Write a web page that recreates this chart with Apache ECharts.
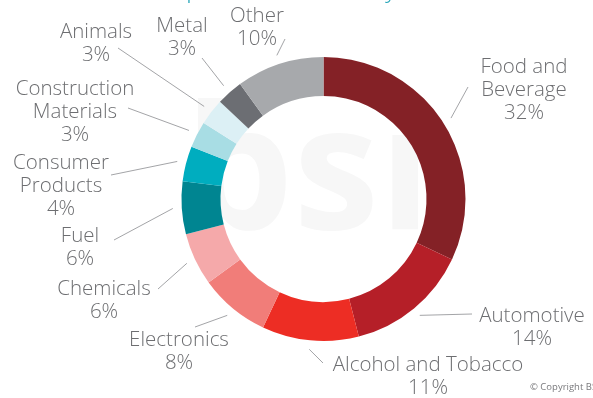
<!DOCTYPE html>
<html>
<head>
<meta charset="utf-8">
<script src="https://cdn.jsdelivr.net/npm/echarts@6/dist/echarts.min.js"></script>
<style>
  html, body { margin: 0; padding: 0; background: #ffffff; }
  #chart { width: 593px; height: 398px; }
</style>
</head>
<body>
<div id="chart"></div>
<script>
// Share of incidents by sector (percent), clockwise from 12 o'clock
const categories = [
  'Food and\nBeverage', 'Automotive', 'Alcohol and Tobacco', 'Electronics',
  'Chemicals', 'Fuel', 'Consumer\nProducts', 'Construction\nMaterials',
  'Animals', 'Metal', 'Other'
];
const shares = [32, 14, 11, 8, 6, 6, 4, 3, 3, 3, 10];
const sliceColors = [
  '#842126', '#b51f28', '#ed2d24', '#f17d79', '#f5a9aa', '#008591',
  '#00adbf', '#a8dde4', '#dcf0f5', '#6c6e73', '#a7a9ac'
];

// Ring geometry
const CX = 323.5, CY = 199, R_IN = 103, R_OUT = 142, LEADER_GAP = 9;

// Where each label sits (text centre) and where its leader line stops
const labelCentres = [
  [524, 90], [532, 328], [428, 377], [179, 352], [104, 301], [80, 248],
  [61, 186], [75, 112], [96, 44], [182, 38], [257, 28]
];
const leaderEnds = [
  [468, 87], [472, 314], [323, 363], [195, 327], [158, 289], [114, 240],
  [111, 175], [128, 108], [118, 48], [202, 58], [285, 39]
];

const chart = echarts.init(document.getElementById('chart'), null, { renderer: 'canvas' });

const option = {
  backgroundColor: '#ffffff',
  animation: false,
  graphic: [
    {
      // page heading, running off the top edge
      type: 'text',
      style: {
        text: 'Top Commodities by Sector',
        x: 318, y: 3,
        fill: '#2aa7ba',
        font: '300 26px "Open Sans", sans-serif',
        textAlign: 'center',
        textVerticalAlign: 'bottom'
      }
    },
    {
      // faint brand mark inside the ring
      type: 'text',
      z: -10,
      silent: true,
      style: {
        text: 'bsi',
        x: 308, y: 180,
        fill: '#f7f7f7',
        font: 'bold 172px "Open Sans", sans-serif',
        textAlign: 'center',
        textVerticalAlign: 'middle'
      }
    },
    {
      type: 'text',
      style: {
        text: '\u00A9 Copyright BSI',
        x: 530, y: 387,
        fill: '#7a7a7d',
        font: '9.5px "Open Sans", sans-serif',
        textAlign: 'left',
        textVerticalAlign: 'middle'
      }
    }
  ],
  series: [{
    type: 'pie',
    z: 2,
    center: [CX, CY],
    radius: [R_IN, R_OUT],
    startAngle: 90,
    clockwise: true,
    avoidLabelOverlap: false,
    itemStyle: { borderWidth: 0 },
    label: {
      show: true,
      position: 'outside',
      formatter: p => p.name + '\n' + p.value + '%',
      color: '#6d6e71',
      fontFamily: '"Open Sans", sans-serif',
      fontWeight: 300,
      fontSize: 20.5,
      lineHeight: 23,
      align: 'center'
    },
    labelLine: {
      show: true,
      length: 10,
      length2: 0,
      smooth: false,
      lineStyle: { color: '#8c8d90', width: 0.8 }
    },
    labelLayout: function (params) {
      const i = params.dataIndex;
      // Leader starts just outside the ring, on the slice's mid angle
      const p0 = params.labelLinePoints ? params.labelLinePoints[0] : [CX, CY - R_OUT];
      const dx = p0[0] - CX, dy = p0[1] - CY;
      const len = Math.sqrt(dx * dx + dy * dy) || 1;
      const r = R_OUT + LEADER_GAP;
      const start = [CX + dx / len * r, CY + dy / len * r];
      return {
        x: labelCentres[i][0],
        y: labelCentres[i][1],
        align: 'center',
        verticalAlign: 'middle',
        labelLinePoints: [start, leaderEnds[i]]
      };
    },
    data: categories.map((name, i) => ({
      name: name,
      value: shares[i],
      itemStyle: { color: sliceColors[i] }
    }))
  }]
};

chart.setOption(option);
</script>
</body>
</html>
